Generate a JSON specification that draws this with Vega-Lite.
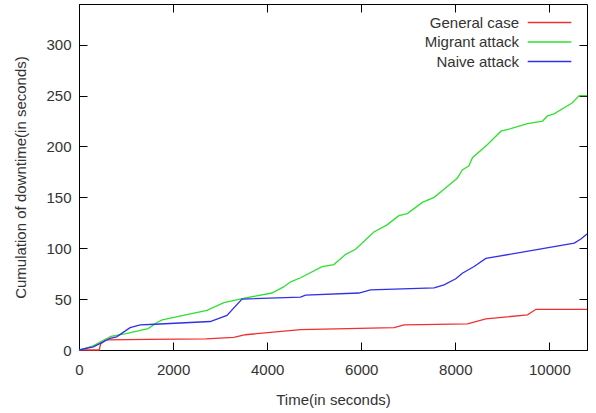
{
  "$schema": "https://vega.github.io/schema/vega-lite/v6.json",
  "width": 508,
  "height": 346,
  "autosize": {"type": "none"},
  "padding": {"left": 79, "top": 4, "right": 9, "bottom": 63},
  "background": "white",
  "config": {
    "view": {"stroke": "#000", "strokeWidth": 1},
    "font": "Liberation Sans",
    "axis": {
      "grid": false,
      "tickSize": -8,
      "tickColor": "#000",
      "tickWidth": 1,
      "domainColor": "#000",
      "labelFlush": false,
      "labelFont": "Liberation Sans",
      "labelFontSize": 15,
      "labelColor": "#333333",
      "titleFont": "Liberation Sans",
      "titleFontSize": 15,
      "titleFontWeight": "normal",
      "titleColor": "#333333"
    }
  },
  "datasets": {
    "series": [
      {"t": 0, "v": 0, "s": "General case"},
      {"t": 430, "v": 0, "s": "General case"},
      {"t": 460, "v": 6, "s": "General case"},
      {"t": 560, "v": 10, "s": "General case"},
      {"t": 1500, "v": 10.5, "s": "General case"},
      {"t": 2700, "v": 11, "s": "General case"},
      {"t": 3290, "v": 12.5, "s": "General case"},
      {"t": 3540, "v": 15, "s": "General case"},
      {"t": 4710, "v": 20, "s": "General case"},
      {"t": 6700, "v": 22, "s": "General case"},
      {"t": 6910, "v": 24.6, "s": "General case"},
      {"t": 7265, "v": 25, "s": "General case"},
      {"t": 8260, "v": 25.6, "s": "General case"},
      {"t": 8650, "v": 30.6, "s": "General case"},
      {"t": 9535, "v": 34.5, "s": "General case"},
      {"t": 9715, "v": 40, "s": "General case"},
      {"t": 10800, "v": 40, "s": "General case"},

      {"t": 0, "v": 0, "s": "Migrant attack"},
      {"t": 300, "v": 4, "s": "Migrant attack"},
      {"t": 680, "v": 13.5, "s": "Migrant attack"},
      {"t": 1000, "v": 16, "s": "Migrant attack"},
      {"t": 1470, "v": 21, "s": "Migrant attack"},
      {"t": 1660, "v": 27, "s": "Migrant attack"},
      {"t": 1770, "v": 29.5, "s": "Migrant attack"},
      {"t": 2720, "v": 39, "s": "Migrant attack"},
      {"t": 3080, "v": 46.5, "s": "Migrant attack"},
      {"t": 3520, "v": 51, "s": "Migrant attack"},
      {"t": 4100, "v": 56, "s": "Migrant attack"},
      {"t": 4350, "v": 62, "s": "Migrant attack"},
      {"t": 4500, "v": 67, "s": "Migrant attack"},
      {"t": 4710, "v": 71, "s": "Migrant attack"},
      {"t": 5170, "v": 82, "s": "Migrant attack"},
      {"t": 5420, "v": 84, "s": "Migrant attack"},
      {"t": 5670, "v": 94, "s": "Migrant attack"},
      {"t": 5880, "v": 99, "s": "Migrant attack"},
      {"t": 6270, "v": 116, "s": "Migrant attack"},
      {"t": 6550, "v": 123, "s": "Migrant attack"},
      {"t": 6800, "v": 132, "s": "Migrant attack"},
      {"t": 6980, "v": 134, "s": "Migrant attack"},
      {"t": 7300, "v": 145, "s": "Migrant attack"},
      {"t": 7550, "v": 150, "s": "Migrant attack"},
      {"t": 7760, "v": 158, "s": "Migrant attack"},
      {"t": 8045, "v": 169, "s": "Migrant attack"},
      {"t": 8150, "v": 177, "s": "Migrant attack"},
      {"t": 8290, "v": 181, "s": "Migrant attack"},
      {"t": 8365, "v": 189, "s": "Migrant attack"},
      {"t": 8685, "v": 202, "s": "Migrant attack"},
      {"t": 8970, "v": 215, "s": "Migrant attack"},
      {"t": 9180, "v": 217.5, "s": "Migrant attack"},
      {"t": 9535, "v": 222.5, "s": "Migrant attack"},
      {"t": 9855, "v": 225, "s": "Migrant attack"},
      {"t": 9960, "v": 230, "s": "Migrant attack"},
      {"t": 10100, "v": 232, "s": "Migrant attack"},
      {"t": 10315, "v": 238, "s": "Migrant attack"},
      {"t": 10490, "v": 243, "s": "Migrant attack"},
      {"t": 10635, "v": 250, "s": "Migrant attack"},
      {"t": 10800, "v": 250, "s": "Migrant attack"},

      {"t": 0, "v": 0, "s": "Naive attack"},
      {"t": 305, "v": 3, "s": "Naive attack"},
      {"t": 518, "v": 8, "s": "Naive attack"},
      {"t": 660, "v": 11.5, "s": "Naive attack"},
      {"t": 800, "v": 13, "s": "Naive attack"},
      {"t": 1086, "v": 22, "s": "Naive attack"},
      {"t": 1300, "v": 24.6, "s": "Naive attack"},
      {"t": 1610, "v": 25.3, "s": "Naive attack"},
      {"t": 2790, "v": 28, "s": "Naive attack"},
      {"t": 3145, "v": 34, "s": "Naive attack"},
      {"t": 3465, "v": 50, "s": "Naive attack"},
      {"t": 4710, "v": 52, "s": "Naive attack"},
      {"t": 4815, "v": 54, "s": "Naive attack"},
      {"t": 5950, "v": 56, "s": "Naive attack"},
      {"t": 6200, "v": 59, "s": "Naive attack"},
      {"t": 7550, "v": 61, "s": "Naive attack"},
      {"t": 7760, "v": 64, "s": "Naive attack"},
      {"t": 8010, "v": 70, "s": "Naive attack"},
      {"t": 8150, "v": 75.5, "s": "Naive attack"},
      {"t": 8400, "v": 82, "s": "Naive attack"},
      {"t": 8650, "v": 90, "s": "Naive attack"},
      {"t": 9610, "v": 97.6, "s": "Naive attack"},
      {"t": 10530, "v": 105, "s": "Naive attack"},
      {"t": 10670, "v": 109, "s": "Naive attack"},
      {"t": 10800, "v": 114, "s": "Naive attack"}
    ]
  },
  "data": {"name": "series"},
  "layer": [
    {
      "mark": {"type": "line", "strokeWidth": 1.3},
      "encoding": {
        "x": {
          "field": "t", "type": "quantitative",
          "scale": {"domain": [0, 10800], "nice": false, "zero": false},
          "axis": {"orient": "bottom", "values": [0, 2000, 4000, 6000, 8000, 10000], "format": "d", "title": "Time(in seconds)", "labelPadding": 20, "titleY": 49, "titleBaseline": "middle"}
        },
        "y": {
          "field": "v", "type": "quantitative",
          "scale": {"domain": [0, 340], "nice": false},
          "axis": {"orient": "left", "values": [0, 50, 100, 150, 200, 250, 300], "format": "d", "title": "Cumulation of downtime(in seconds)", "labelPadding": 16, "titleX": -59, "titleY": 173, "titleBaseline": "middle"}
        },
        "color": {
          "field": "s", "type": "nominal",
          "scale": {"domain": ["General case", "Migrant attack", "Naive attack"], "range": ["#f03030", "#30e030", "#3030e8"]},
          "legend": {
            "orient": "none", "legendX": 449, "legendY": 11, "title": null,
            "symbolType": "M-10,0H10", "symbolSize": 19, "symbolStrokeWidth": 1.3,
            "symbolOffset": 14, "labelAlign": "right", "labelOffset": -38,
            "labelFontSize": 15, "labelFont": "Liberation Sans", "labelColor": "#333333",
            "rowPadding": 3.5, "labelBaseline": "middle"
          }
        }
      }
    },
    {
      "mark": {"type": "line", "strokeOpacity": 0},
      "encoding": {
        "x": {
          "field": "t", "type": "quantitative",
          "axis": {"orient": "top", "values": [0, 2000, 4000, 6000, 8000, 10000], "labels": false, "title": null, "domain": false}
        },
        "y": {
          "field": "v", "type": "quantitative",
          "axis": {"orient": "right", "values": [0, 50, 100, 150, 200, 250, 300], "labels": false, "title": null, "domain": false}
        },
        "detail": {"field": "s"}
      }
    }
  ],
  "resolve": {"axis": {"x": "independent", "y": "independent"}}
}
